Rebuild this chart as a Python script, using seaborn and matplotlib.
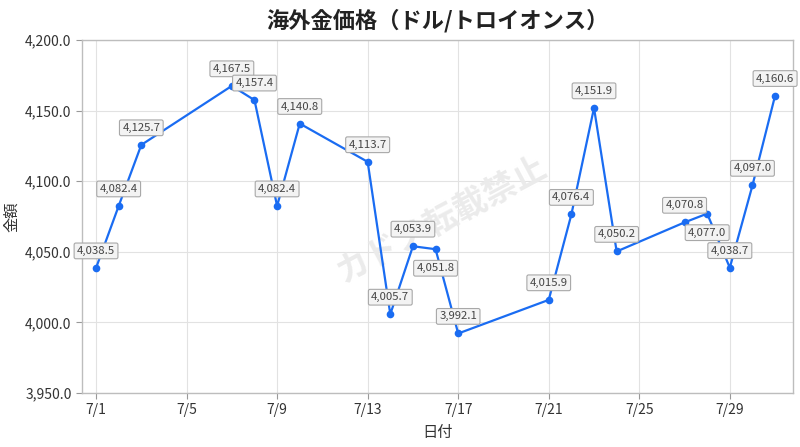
import matplotlib
matplotlib.use("Agg")
import matplotlib.pyplot as plt
import matplotlib.dates as mdates
import matplotlib.ticker as mticker
import seaborn as sns
import pandas as pd

dates = ["2025-07-01", "2025-07-02", "2025-07-03", "2025-07-07", "2025-07-08",
         "2025-07-09", "2025-07-10", "2025-07-13", "2025-07-14", "2025-07-15",
         "2025-07-16", "2025-07-17", "2025-07-21", "2025-07-22", "2025-07-23",
         "2025-07-24", "2025-07-27", "2025-07-28", "2025-07-29", "2025-07-30",
         "2025-07-31"]
prices = [4038.5, 4082.4, 4125.7, 4167.5, 4157.4,
          4082.4, 4140.8, 4113.7, 4005.7, 4053.9,
          4051.8, 3992.1, 4015.9, 4076.4, 4151.9,
          4050.2, 4070.8, 4077.0, 4038.7, 4097.0,
          4160.6]
label_side = ["up", "up", "up", "up", "up",
              "up", "up", "up", "up", "up",
              "down", "up", "up", "up", "up",
              "up", "up", "down", "up", "up",
              "up"]
y_ticks = [3950, 4000, 4050, 4100, 4150, 4200]

title = "海外金価格（ドル/トロイオンス）"
xlabel = "日付"
ylabel = "金額"
watermark = "カドノ転載禁止"

df = pd.DataFrame({"date": pd.to_datetime(dates), "price": prices})

sns.set_theme(style="whitegrid")
plt.rcParams["font.family"] = ["Noto Sans CJK JP", "DejaVu Sans"]

fig = plt.figure(figsize=(8, 4.47), dpi=100)
ax = fig.add_axes([0.1025, 0.121, 0.889, 0.7895])

line_color = "#1a6cf2"
sns.lineplot(data=df, x="date", y="price", ax=ax, color=line_color,
             linewidth=1.6, marker="o", markersize=5.5,
             markeredgewidth=0, zorder=3)

for d, p, side in zip(df["date"], df["price"], label_side):
    off = 12.3 if side == "up" else -13.7
    ax.annotate(f"{p:,.1f}", xy=(d, p), xytext=(0, off),
                textcoords="offset points", ha="center", va="center",
                fontsize=8.2, color="#444444", zorder=5,
                bbox=dict(boxstyle="round,pad=0.25,rounding_size=0.15",
                          fc="#f3f3f3", ec="#a8a8a8", lw=0.8))

ax.text(0.505, 0.49, watermark, transform=ax.transAxes, rotation=28,
        ha="center", va="center", fontsize=24, fontweight="bold",
        color="#ebebeb", zorder=1)

start = pd.Timestamp("2025-07-01")
ax.set_xlim(start - pd.Timedelta(days=0.62), start + pd.Timedelta(days=30.8))
ax.set_ylim(3950, 4200)
ax.set_yticks(y_ticks)
ax.yaxis.set_major_formatter(mticker.FuncFormatter(lambda v, _: f"{v:,.1f}"))
ax.xaxis.set_major_locator(mdates.DayLocator(bymonthday=range(1, 32, 4)))
ax.xaxis.set_major_formatter(mticker.FuncFormatter(
    lambda v, _: f"{mdates.num2date(v).month}/{mdates.num2date(v).day}"))

ax.grid(True, color="#e2e2e2", linewidth=0.8)
for s in ax.spines.values():
    s.set_color("#bdbdbd")
    s.set_linewidth(1.0)
ax.tick_params(axis="both", which="major", length=4, width=0.8,
               color="#999999", labelsize=10, labelcolor="#333333",
               bottom=True, left=True)

ax.set_title(title, fontsize=16, fontweight="bold", color="#222222", pad=9)
ax.set_xlabel(xlabel, fontsize=11, color="#333333", labelpad=5)
ax.set_ylabel(ylabel, fontsize=11, color="#333333", labelpad=4)

fig.savefig("out.png", dpi=100)
